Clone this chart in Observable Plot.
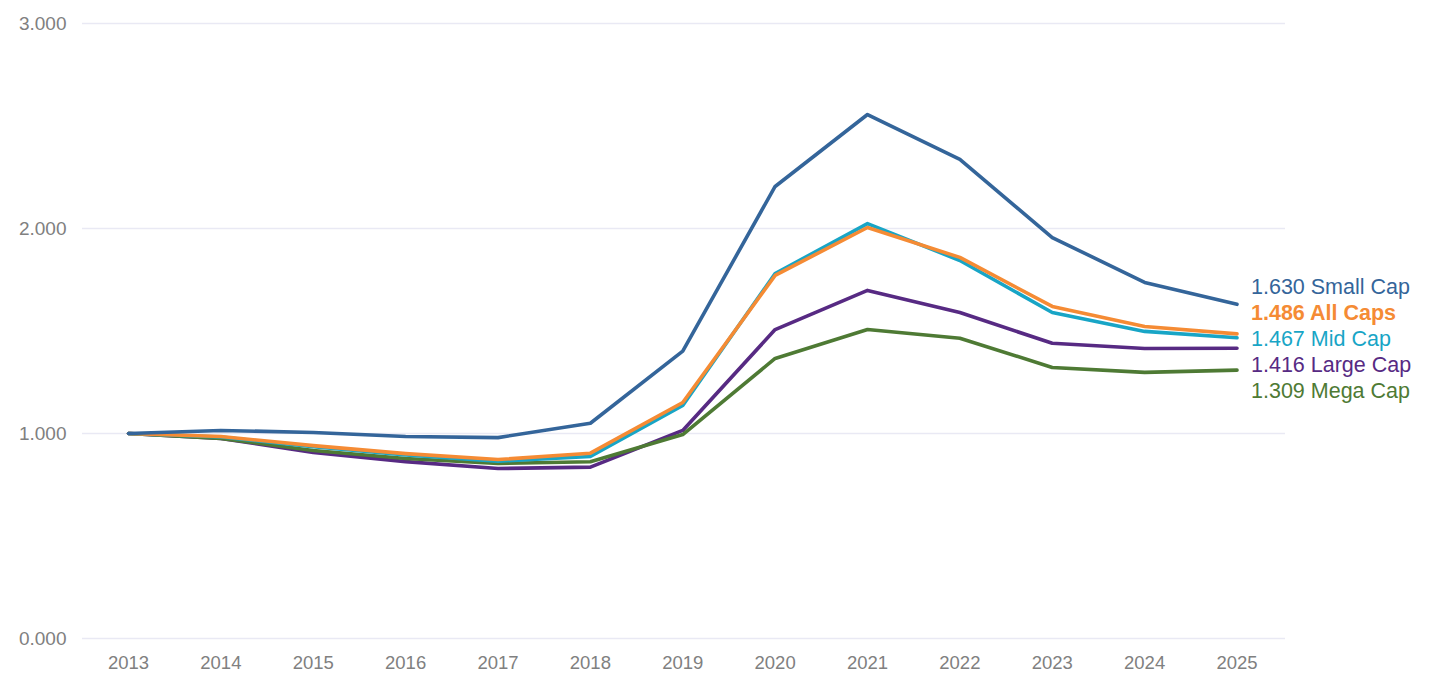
<!DOCTYPE html>
<html>
<head>
<meta charset="utf-8">
<script src="https://cdn.jsdelivr.net/npm/d3@7"></script>
<script src="https://cdn.jsdelivr.net/npm/@observablehq/plot@0.6"></script>
<style>
  html, body { margin: 0; padding: 0; background: #fff; }
  #chart svg { display: block; }
</style>
</head>
<body>
<div id="chart"></div>
<script>
const years = [2013, 2014, 2015, 2016, 2017, 2018, 2019, 2020, 2021, 2022, 2023, 2024, 2025];

const smallCap = [1.000, 1.015, 1.005, 0.985, 0.980, 1.050, 1.402, 2.205, 2.556, 2.337, 1.956, 1.737, 1.630];
const allCaps  = [1.000, 0.985, 0.941, 0.902, 0.873, 0.904, 1.151, 1.771, 2.005, 1.859, 1.620, 1.522, 1.486];
const midCap   = [1.000, 0.983, 0.935, 0.895, 0.865, 0.888, 1.137, 1.780, 2.024, 1.844, 1.590, 1.498, 1.467];
const largeCap = [1.000, 0.976, 0.907, 0.863, 0.829, 0.836, 1.015, 1.507, 1.698, 1.590, 1.440, 1.415, 1.416];
const megaCap  = [1.000, 0.976, 0.917, 0.878, 0.854, 0.862, 0.995, 1.366, 1.507, 1.465, 1.322, 1.298, 1.309];

const seriesNames  = ["Large Cap", "Mega Cap", "Mid Cap", "All Caps", "Small Cap"];
const seriesValues = [largeCap, megaCap, midCap, allCaps, smallCap];
const seriesColors = ["#572a83", "#4e7a34", "#18a5c6", "#f58b34", "#34659a"];
const boldSeries   = ["All Caps"];

const yTicks = [0, 1, 2, 3];

const rows = [];
seriesNames.forEach((name, i) => {
  seriesValues[i].forEach((v, j) => rows.push({series: name, year: years[j], value: v}));
});

// end labels, dodged vertically (in value units) around their mean
const last = seriesNames.map((name, i) => ({series: name, value: seriesValues[i][seriesValues[i].length - 1], color: seriesColors[i]}))
  .sort((a, b) => b.value - a.value);
const gap = 0.1265;
const meanV = d3.mean(last, d => d.value);
last.forEach((d, k) => { d.labelY = meanV + ((last.length - 1) / 2 - k) * gap; });

const colorScale = {domain: seriesNames, range: seriesColors};
const font = "Liberation Sans, Arial, Helvetica, sans-serif";

const labelOpts = (weight) => ({
  x: () => years[years.length - 1],
  y: "labelY",
  text: d => d.value.toFixed(3) + " " + d.series,
  fill: "color",
  textAnchor: "start",
  dx: 14,
  fontSize: 21.5,
  fontWeight: weight
});

const chart = Plot.plot({
  width: 1436,
  height: 680,
  marginLeft: 82,
  marginRight: 151,
  marginTop: 23,
  marginBottom: 42,
  style: {fontFamily: font, background: "#fff"},
  x: {type: "point", domain: years, range: [128, 1236.5], padding: 0, round: false},
  y: {domain: [0, 3]},
  color: colorScale,
  marks: [
    Plot.ruleY(yTicks, {stroke: "#e9e9f4", strokeWidth: 1.5}),
    Plot.axisY(yTicks, {tickSize: 0, tickPadding: 16, fontSize: 19, fill: "#808080", tickFormat: d => d.toFixed(3), label: null}),
    Plot.axisX(years, {tickSize: 0, tickPadding: 17, fontSize: 18.5, fill: "#808080", tickFormat: d => String(d), label: null}),
    Plot.line(rows, {x: "year", y: "value", z: "series", stroke: "series", strokeWidth: 3.6, curve: "linear", strokeLinejoin: "round", strokeLinecap: "round"}),
    Plot.text(last.filter(d => !boldSeries.includes(d.series)), labelOpts("normal")),
    Plot.text(last.filter(d => boldSeries.includes(d.series)), labelOpts("bold"))
  ]
});

document.getElementById("chart").appendChild(chart);
</script>
</body>
</html>
